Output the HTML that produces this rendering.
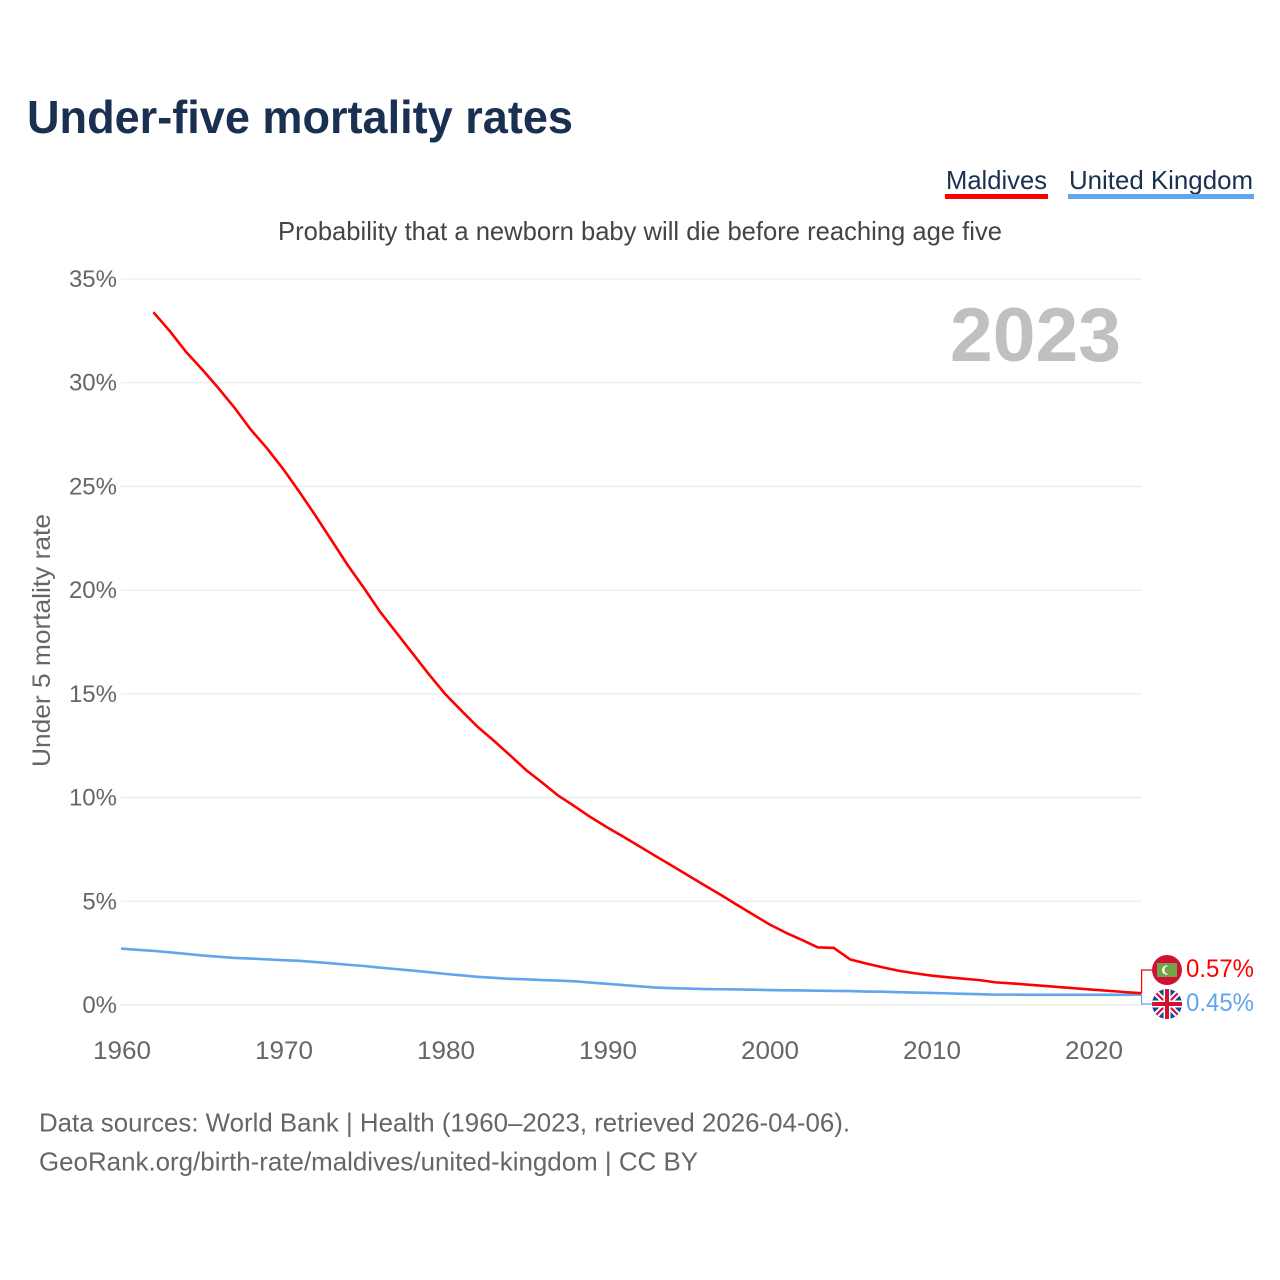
<!DOCTYPE html>
<html lang="en">
<head>
<meta charset="utf-8">
<title>Under-five mortality rates</title>
<style>
html,body{margin:0;padding:0;background:#fff;width:1280px;height:1280px;overflow:hidden}
svg{display:block}
text{font-family:"Liberation Sans",sans-serif}
</style>
</head>
<body>
<svg id="chart" xmlns="http://www.w3.org/2000/svg" width="1280" height="1280" viewBox="0 0 1280 1280">
  <rect width="1280" height="1280" fill="#fff"/>
  <text x="27" y="133" font-size="46" font-weight="700" fill="#1a3050" textLength="546" lengthAdjust="spacingAndGlyphs">Under-five mortality rates</text>
  <g>
    <text x="946" y="189" font-size="26" fill="#1a3050" textLength="101" lengthAdjust="spacingAndGlyphs">Maldives</text>
    <rect x="945" y="194" width="103" height="5" fill="#ff0000"/>
  </g>
  <g>
    <text x="1069" y="189" font-size="26" fill="#1a3050" textLength="184" lengthAdjust="spacingAndGlyphs">United Kingdom</text>
    <rect x="1068" y="194" width="186" height="5" fill="#61a5ec"/>
  </g>
  <text x="278" y="240" font-size="26" fill="#444" textLength="724" lengthAdjust="spacingAndGlyphs">Probability that a newborn baby will die before reaching age five</text>
  <g id="grid"></g>
  <g id="yTicks"></g>
  <g id="xTicks"></g>
  <text x="950" y="361" font-size="76" font-weight="700" fill="#c0c0c0" textLength="171" lengthAdjust="spacingAndGlyphs">2023</text>
  <text transform="translate(50,767) rotate(-90)" font-size="25" fill="#666" textLength="253" lengthAdjust="spacingAndGlyphs">Under 5 mortality rate</text>
  <path id="lineUk" fill="none" stroke="#61a5ec" stroke-width="2.6" stroke-linejoin="round"/>
  <path id="lineMv" fill="none" stroke="#ff0000" stroke-width="2.6" stroke-linejoin="round"/>
  <path id="connUk" fill="none" stroke="#61a5ec" stroke-width="1.2"/>
  <path id="connMv" fill="none" stroke="#ff0000" stroke-width="1.2"/>
  <g>
    <circle cx="1167" cy="970" r="15" fill="#d21034"/>
    <rect x="1157" y="963" width="20" height="14" fill="#6fa54a"/>
    <circle cx="1166.5" cy="970" r="4.6" fill="#f4f8ee"/>
    <circle cx="1168.5" cy="970" r="4" fill="#6fa54a"/>
  </g>
  <g>
    <defs><clipPath id="ukClip"><circle cx="1167" cy="1004" r="15"/></clipPath></defs>
    <g clip-path="url(#ukClip)">
      <rect x="1152" y="989" width="30" height="30" fill="#0f4a9c"/>
      <path d="M1152 989L1182 1019M1182 989L1152 1019" stroke="#fff" stroke-width="6"/>
      <path d="M1152 989L1182 1019M1182 989L1152 1019" stroke="#d21034" stroke-width="2.2"/>
      <path d="M1167 989V1019M1152 1004H1182" stroke="#fff" stroke-width="7"/>
      <path d="M1167 989V1019M1152 1004H1182" stroke="#d21034" stroke-width="4"/>
    </g>
  </g>
  <text x="1186" y="977" font-size="25" fill="#ff0000" textLength="68" lengthAdjust="spacingAndGlyphs">0.57%</text>
  <text x="1186" y="1011" font-size="25" fill="#61a5ec" textLength="68" lengthAdjust="spacingAndGlyphs">0.45%</text>
  <text x="39" y="1131.5" font-size="26" fill="#666" textLength="811" lengthAdjust="spacingAndGlyphs">Data sources: World Bank | Health (1960–2023, retrieved 2026-04-06).</text>
  <text x="39" y="1170.5" font-size="26" fill="#666" textLength="659" lengthAdjust="spacingAndGlyphs">GeoRank.org/birth-rate/maldives/united-kingdom | CC BY</text>
</svg>
<script>
const yearsMaldives = [1962,1963,1964,1965,1966,1967,1968,1969,1970,1971,1972,1973,1974,1975,1976,1977,1978,1979,1980,1981,1982,1983,1984,1985,1986,1987,1988,1989,1990,1991,1992,1993,1994,1995,1996,1997,1998,1999,2000,2001,2002,2003,2004,2005,2006,2007,2008,2009,2010,2011,2012,2013,2014,2015,2016,2017,2018,2019,2020,2021,2022,2023];
const valuesMaldives = [33.4,32.5,31.5,30.65,29.75,28.8,27.75,26.85,25.85,24.75,23.6,22.4,21.2,20.1,18.95,17.95,16.95,15.95,15.0,14.2,13.42,12.75,12.05,11.33,10.72,10.09,9.58,9.05,8.57,8.12,7.65,7.18,6.72,6.25,5.78,5.32,4.84,4.37,3.9,3.5,3.15,2.78,2.75,2.2,2.0,1.82,1.65,1.53,1.42,1.34,1.27,1.2,1.09,1.04,0.98,0.92,0.86,0.8,0.74,0.68,0.62,0.57];
const yearsUk = [1960,1961,1962,1963,1964,1965,1966,1967,1968,1969,1970,1971,1972,1973,1974,1975,1976,1977,1978,1979,1980,1981,1982,1983,1984,1985,1986,1987,1988,1989,1990,1991,1992,1993,1994,1995,1996,1997,1998,1999,2000,2001,2002,2003,2004,2005,2006,2007,2008,2009,2010,2011,2012,2013,2014,2015,2016,2017,2018,2019,2020,2021,2022,2023];
const valuesUk = [2.72,2.66,2.61,2.54,2.47,2.39,2.33,2.27,2.24,2.2,2.16,2.13,2.07,2.01,1.94,1.88,1.8,1.73,1.66,1.58,1.5,1.43,1.36,1.31,1.26,1.24,1.2,1.18,1.14,1.08,1.02,0.96,0.9,0.84,0.81,0.79,0.77,0.76,0.75,0.74,0.72,0.71,0.7,0.69,0.68,0.67,0.65,0.64,0.62,0.6,0.58,0.56,0.54,0.52,0.5,0.5,0.49,0.49,0.49,0.49,0.49,0.49,0.49,0.5];
const yTickValues = [0,5,10,15,20,25,30,35];
const yTickLabels = ['0%','5%','10%','15%','20%','25%','30%','35%'];
const xTickValues = [1960,1970,1980,1990,2000,2010,2020];
const xTickLabels = ['1960','1970','1980','1990','2000','2010','2020'];

const NS = 'http://www.w3.org/2000/svg';
function xScale(year){ return 121 + (year - 1960) * 16.2; }
function yScale(v){ return 1005 - v * (726 / 35); }
function linePath(xs, ys){
  return xs.map(function(x, i){
    return (i ? 'L' : 'M') + xScale(x).toFixed(2) + ' ' + yScale(ys[i]).toFixed(2);
  }).join('');
}

const grid = document.getElementById('grid');
const yTicks = document.getElementById('yTicks');
const xTicks = document.getElementById('xTicks');

yTickValues.forEach(function(v, i){
  const line = document.createElementNS(NS, 'line');
  
  
  line.setAttribute('x1', 121);
  line.setAttribute('x2', 1142);
  line.setAttribute('y1', yScale(v));
  line.setAttribute('y2', yScale(v));
  line.setAttribute('stroke', '#ececec');
  line.setAttribute('stroke-width', v === 0 ? 1.5 : 1.3);
  grid.appendChild(line);

  const label = document.createElementNS(NS, 'text');
  
  
  label.setAttribute('x', 117);
  label.setAttribute('y', yScale(v) + 8);
  label.setAttribute('text-anchor', 'end');
  label.setAttribute('font-size', '24');
  label.setAttribute('fill', '#666');
  label.textContent = yTickLabels[i];
  yTicks.appendChild(label);
});

xTickValues.forEach(function(v, i){
  const label = document.createElementNS(NS, 'text');
  
  
  label.setAttribute('x', xScale(v) - 28);
  label.setAttribute('y', 1059);
  label.setAttribute('font-size', '25');
  label.setAttribute('fill', '#666');
  label.setAttribute('textLength', '58');
  label.setAttribute('lengthAdjust', 'spacingAndGlyphs');
  label.textContent = xTickLabels[i];
  xTicks.appendChild(label);
});

document.getElementById('lineMv').setAttribute('d', linePath(yearsMaldives, valuesMaldives));
document.getElementById('lineUk').setAttribute('d', linePath(yearsUk, valuesUk));

const endX = xScale(2023);
const mvEnd = yScale(valuesMaldives[valuesMaldives.length - 1]);
const ukEnd = yScale(valuesUk[valuesUk.length - 1]);
document.getElementById('connMv').setAttribute('d', 'M' + endX + ' ' + mvEnd + 'V970H1152');
document.getElementById('connUk').setAttribute('d', 'M' + endX + ' ' + ukEnd + 'V1004H1152');
</script>
</body>
</html>
